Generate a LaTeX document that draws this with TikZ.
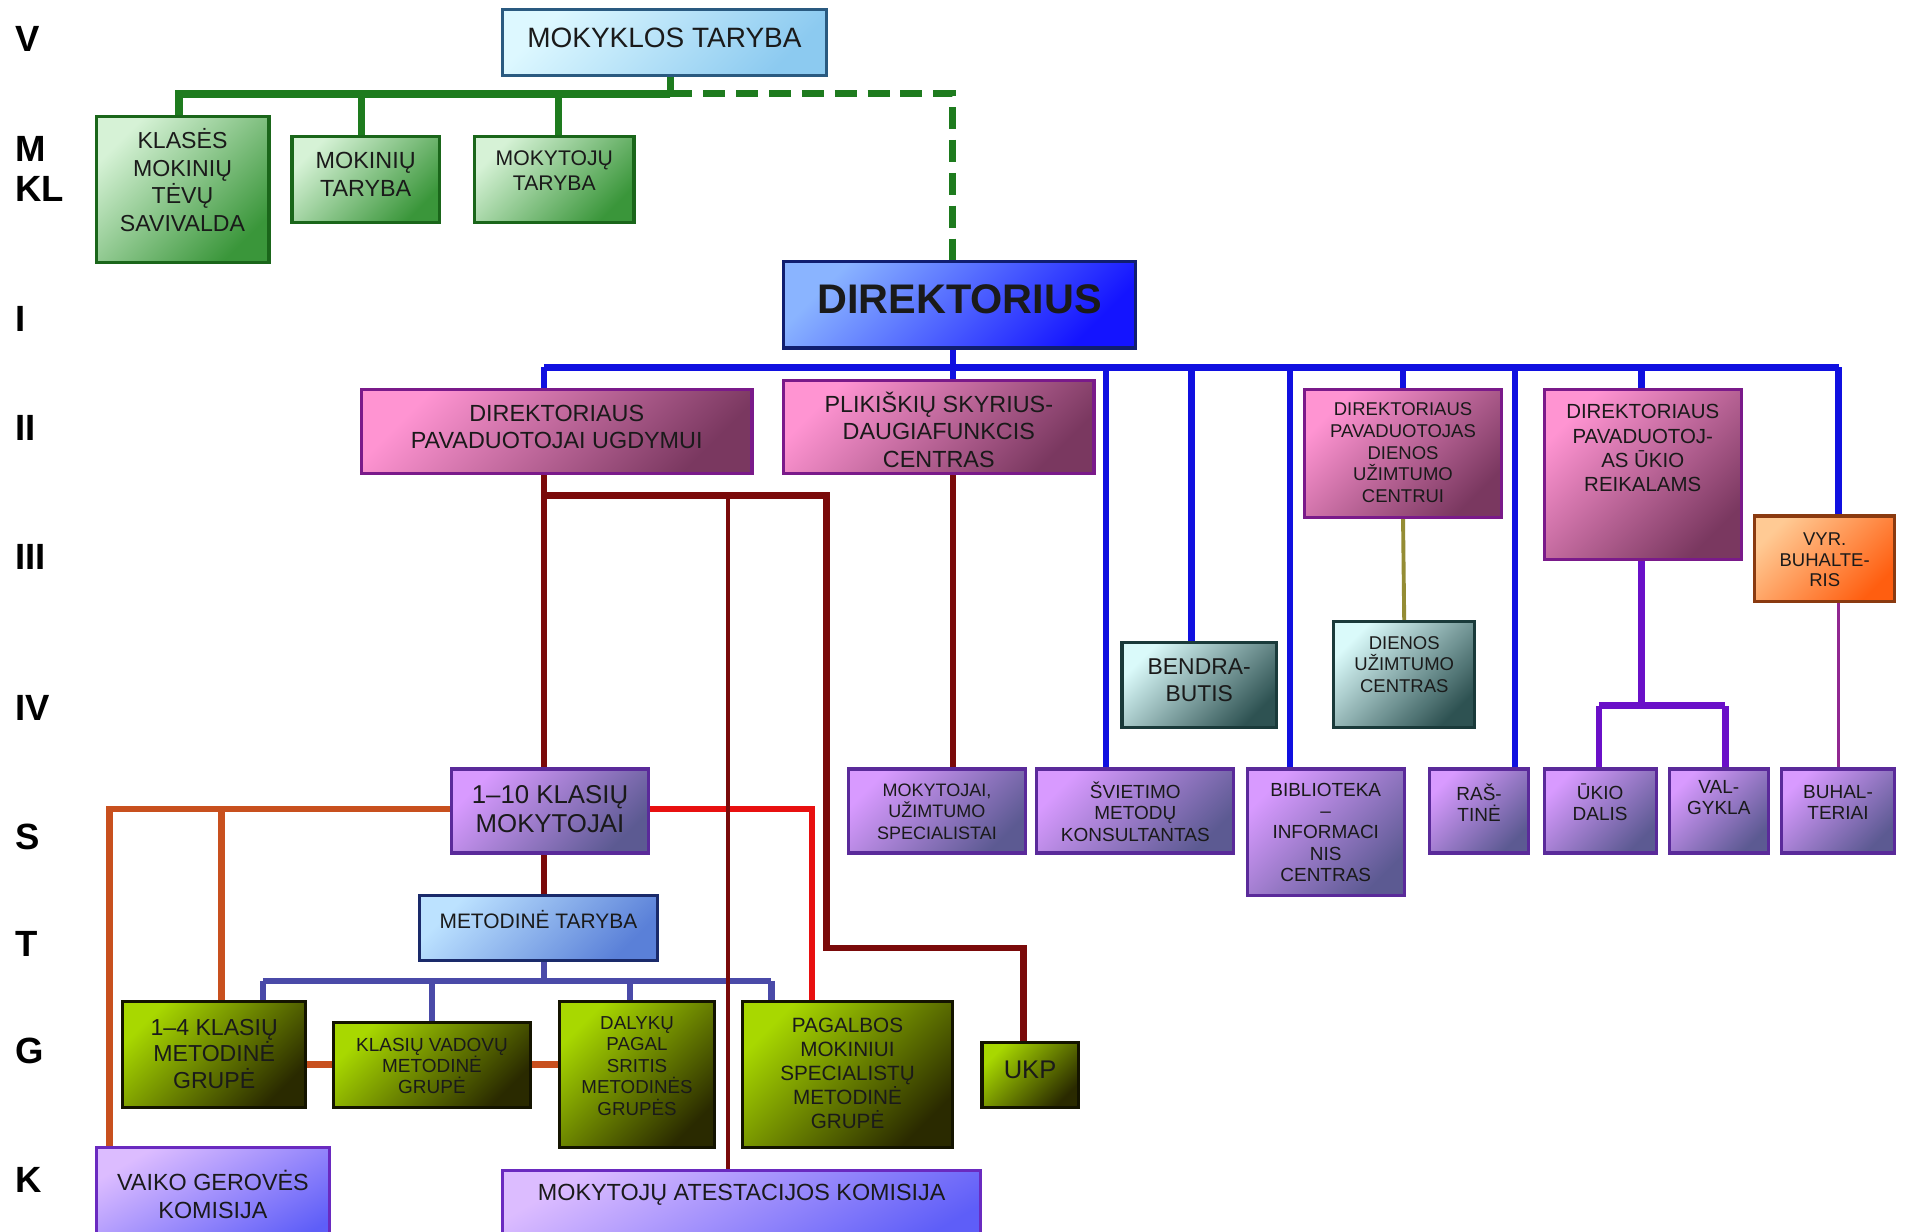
\documentclass[tikz,border=0pt]{standalone}
\usepackage{fontspec}
\setmainfont{Liberation Sans}
\pgfdeclarelayer{bg}
\pgfsetlayers{bg,main}
\definecolor{cyL}{HTML}{DDF8FF}\definecolor{cyD}{HTML}{8CCAF0}\definecolor{cyB}{HTML}{2A5A80}
\definecolor{grL}{HTML}{D6F2D6}\definecolor{grD}{HTML}{3A963A}\definecolor{grB}{HTML}{1A661A}
\definecolor{blL}{HTML}{8AB4FF}\definecolor{blD}{HTML}{1414FF}\definecolor{blB}{HTML}{101E70}
\definecolor{piL}{HTML}{FF94D2}\definecolor{piD}{HTML}{7A3860}\definecolor{piB}{HTML}{7A1A8A}
\definecolor{orL}{HTML}{FFCA94}\definecolor{orD}{HTML}{FF5E10}\definecolor{orB}{HTML}{8A3A10}
\definecolor{teL}{HTML}{DAFAFA}\definecolor{teD}{HTML}{2E5252}\definecolor{teB}{HTML}{1A3A3A}
\definecolor{viL}{HTML}{D89AFF}\definecolor{viD}{HTML}{5C5A92}\definecolor{viB}{HTML}{5A2A9A}
\definecolor{mtL}{HTML}{BCE2FF}\definecolor{mtD}{HTML}{5A80D8}\definecolor{mtB}{HTML}{1A2A6A}
\definecolor{liL}{HTML}{A8D800}\definecolor{liD}{HTML}{2A2A00}\definecolor{liB}{HTML}{141400}
\definecolor{laL}{HTML}{DCBCFF}\definecolor{laD}{HTML}{5E5EF8}\definecolor{laB}{HTML}{6A2AC0}
\definecolor{cGreen}{HTML}{1E7B1E}
\definecolor{cBlue}{HTML}{1010E0}
\definecolor{cMaroon}{HTML}{7A0A0A}
\definecolor{cOlive}{HTML}{948C34}
\definecolor{cViolet}{HTML}{6A10C8}
\definecolor{cPlum}{HTML}{902890}
\definecolor{cRust}{HTML}{C8501E}
\definecolor{cRed}{HTML}{E81010}
\definecolor{cNavy}{HTML}{4A4AA8}
\definecolor{txtc}{HTML}{1A1A1A}
\tikzset{
  box/.style={draw, line width=1.3pt, inner sep=0pt, outer sep=0pt},
  cyanbox/.style={box, draw=cyB, top color=cyL, bottom color=cyD, shading angle=45},
  greenbox/.style={box, draw=grB, top color=grL, bottom color=grD, shading angle=45},
  bluebox/.style={box, draw=blB, top color=blL, bottom color=blD, shading angle=45},
  pinkbox/.style={box, draw=piB, top color=piL, bottom color=piD, shading angle=45},
  orangebox/.style={box, draw=orB, top color=orL, bottom color=orD, shading angle=45},
  tealbox/.style={box, draw=teB, top color=teL, bottom color=teD, shading angle=45},
  violetbox/.style={box, draw=viB, top color=viL, bottom color=viD, shading angle=45},
  mtbox/.style={box, draw=mtB, top color=mtL, bottom color=mtD, shading angle=45},
  limebox/.style={box, draw=liB, top color=liL, bottom color=liD, shading angle=45},
  lavbox/.style={box, draw=laB, top color=laL, bottom color=laD, shading angle=30},
  txt/.style={align=center, inner sep=0pt, text=txtc},
  f/.style 2 args={font=\fontsize{#1}{#2}\selectfont},
  fb/.style 2 args={font=\fontsize{#1}{#2}\selectfont\bfseries},
  rowlab/.style={anchor=west, inner sep=0pt, font=\fontsize{15}{18}\selectfont\bfseries},
  conn/.style={line width=2.7pt},
  gline/.style={line width=3.2pt, draw=cGreen},
  gdash/.style={line width=3pt, draw=cGreen, dash pattern=on 9pt off 4.5pt},
  bline/.style={conn, draw=cBlue},
  mline/.style={conn, draw=cMaroon},
  mthin/.style={line width=1.7pt, draw=cMaroon},
  oline/.style={line width=1.6pt, draw=cOlive},
  vline/.style={conn, draw=cViolet},
  pline/.style={line width=1.4pt, draw=cPlum},
  rline/.style={line width=2.7pt, draw=cRust},
  redline/.style={line width=2.5pt, draw=cRed},
  nline/.style={line width=2.5pt, draw=cNavy},
}
\newcommand\bx[9]{%
  \node[#6, minimum width={(#4-#2)*0.5pt}, minimum height={(#5-#3)*0.5pt}] (#1) at ({(#2+#4)/2},{(#3+#5)/2}) {};
  \node[txt, #8] (#1t) at ({(#2+#4)/2},#7) {#9};
}
\begin{document}
\begin{tikzpicture}[x=0.5pt,y=-0.5pt]
\useasboundingbox (0,0) rectangle (1568,1012);
\clip (0,0) rectangle (1568,1012);
\begin{pgfonlayer}{bg}
\fill[white] (0,0) rectangle (1568,1012);
\end{pgfonlayer}
% row labels
\node[rowlab] (lV) at (12,32) {V};
\node[rowlab] (lM) at (12,122) {M};
\node[rowlab] (lKL) at (12,155) {KL};
\node[rowlab] (lI) at (12,262) {I};
\node[rowlab] (lII) at (12,352) {II};
\node[rowlab] (lIII) at (12,458) {III};
\node[rowlab] (lIV) at (12,582) {IV};
\node[rowlab] (lS) at (12,688) {S};
\node[rowlab] (lT) at (12,776) {T};
\node[rowlab] (lG) at (12,864) {G};
\node[rowlab] (lK) at (12,970) {K};
% boxes
\bx{mokt}{413}{8}{679}{62}{cyanbox}{31}{f={11.5}{13.5}}{MOKYKLOS TARYBA}
\bx{klases}{79}{96}{221}{216}{greenbox}{148}{f={9.5}{11.3}}{KLASĖS\\MOKINIŲ\\TĖVŲ\\SAVIVALDA}
\bx{mokin}{240}{112}{361}{183}{greenbox}{143}{f={9.6}{11.5}}{MOKINIŲ\\TARYBA}
\bx{mokyt}{390}{112}{521}{183}{greenbox}{140}{f={8.7}{10.3}}{MOKYTOJŲ\\TARYBA}
\bx{dir}{644}{215}{933}{286}{bluebox}{246}{fb={17}{20}}{DIREKTORIUS}
\bx{pavu}{297}{320}{618}{389}{pinkbox}{351}{f={9.6}{11.2}}{DIREKTORIAUS\\PAVADUOTOJAI UGDYMUI}
\bx{plik}{644}{313}{899}{389}{pinkbox}{353}{f={9.6}{11.3}}{PLIKIŠKIŲ SKYRIUS-\\DAUGIAFUNKCIS\\CENTRAS}
\bx{pavd}{1072}{320}{1234}{425}{pinkbox}{372}{f={7.6}{8.9}}{DIREKTORIAUS\\PAVADUOTOJAS\\DIENOS\\UŽIMTUMO\\CENTRUI}
\bx{pavk}{1269}{320}{1431}{460}{pinkbox}{368.5}{f={8.4}{10}}{DIREKTORIAUS\\PAVADUOTOJ-\\AS ŪKIO\\REIKALAMS}
\bx{vyr}{1442}{424}{1557}{494}{orangebox}{460}{f={7.6}{8.4}}{VYR.\\BUHALTE-\\RIS}
\bx{bend}{922}{528}{1049}{598}{tealbox}{559}{f={9.4}{11}}{BENDRA-\\BUTIS}
\bx{dien}{1096}{511}{1212}{598}{tealbox}{546}{f={7.6}{8.9}}{DIENOS\\UŽIMTUMO\\CENTRAS}
\bx{k110}{371}{632}{533}{701}{violetbox}{665}{f={10.6}{12}}{1–10 KLASIŲ\\MOKYTOJAI}
\bx{mokuz}{697}{632}{843}{701}{violetbox}{667}{f={7.4}{8.9}}{MOKYTOJAI,\\UŽIMTUMO\\SPECIALISTAI}
\bx{svie}{852}{632}{1014}{701}{violetbox}{667}{f={7.8}{8.9}}{ŠVIETIMO\\METODŲ\\KONSULTANTAS}
\bx{bibl}{1025}{632}{1154}{736}{violetbox}{684}{f={7.8}{8.8}}{BIBLIOTEKA\\–\\INFORMACI\\NIS\\CENTRAS}
\bx{rast}{1175}{632}{1256}{701}{violetbox}{659.5}{f={7.8}{8.6}}{RAŠ-\\TINĖ}
\bx{ukio}{1269}{632}{1361}{701}{violetbox}{659.5}{f={7.8}{8.6}}{ŪKIO\\DALIS}
\bx{valg}{1372}{632}{1453}{701}{violetbox}{655.5}{f={7.8}{8.6}}{VAL-\\GYKLA}
\bx{buh}{1464}{632}{1557}{701}{violetbox}{659.5}{f={7.8}{8.6}}{BUHAL-\\TERIAI}
\bx{mtar}{345}{736}{540}{789}{mtbox}{756}{f={8.6}{10}}{METODINĖ TARYBA}
\bx{k14}{101}{823}{251}{910}{limebox}{866}{f={9.5}{10.8}}{1–4 KLASIŲ\\METODINĖ\\GRUPĖ}
\bx{kvad}{274}{840}{436}{910}{limebox}{876}{f={7.8}{8.8}}{KLASIŲ VADOVŲ\\METODINĖ\\GRUPĖ}
\bx{daly}{460}{823}{587}{943}{limebox}{876}{f={7.7}{8.8}}{DALYKŲ\\PAGAL\\SRITIS\\METODINĖS\\GRUPĖS}
\bx{pag}{610}{823}{783}{943}{limebox}{882}{f={8.5}{9.8}}{PAGALBOS\\MOKINIUI\\SPECIALISTŲ\\METODINĖ\\GRUPĖ}
\bx{ukp}{807}{857}{886}{910}{limebox}{879}{f={10.5}{12}}{UKP}
\bx{vaiko}{79}{943}{271}{1030}{lavbox}{981.5}{f={9.6}{11.5}}{VAIKO GEROVĖS\\KOMISIJA}
\bx{atest}{413}{962}{806}{1030}{lavbox}{982}{f={9.6}{11}}{MOKYTOJŲ ATESTACIJOS KOMISIJA}
% junction coordinates
\coordinate (gJ) at (551,77); \coordinate (gL) at (147,77); \coordinate (gD) at (783,77);
\coordinate (g2) at (297,77); \coordinate (g3) at (459,77);
\coordinate (bL) at (447,302); \coordinate (bR) at (1511,302); \coordinate (bD) at (783,302);
\coordinate (b3) at (909,302); \coordinate (b4) at (979,302); \coordinate (b5) at (1060,302);
\coordinate (b6) at (1153,302); \coordinate (b7) at (1245,302); \coordinate (b8) at (1349,302);
\coordinate (m1) at (447,407); \coordinate (m2) at (598,407); \coordinate (m3) at (679,407);
\coordinate (m4) at (679,779); \coordinate (m5) at (841,779); \coordinate (m6) at (783,389);
\coordinate (v1) at (1349,580); \coordinate (v2) at (1314,580); \coordinate (v3) at (1418,580);
\coordinate (pb) at (1511,494);
\coordinate (r1) at (90,665); \coordinate (r2) at (182,665); \coordinate (rd) at (667,665);
\coordinate (gy) at (0,875);
\coordinate (n0) at (447,806); \coordinate (nL) at (216,806); \coordinate (nR) at (634,806);
\coordinate (n2) at (355,806); \coordinate (n3) at (518,806);
\begin{pgfonlayer}{bg}
% green
\draw[gline] (mokt.south -| gJ) -- (gJ);
\draw[gline] (gJ) -- (gL) -- (klases.north -| gL);
\draw[gline] (g2) -- (mokin.north -| g2);
\draw[gline] (g3) -- (mokyt.north -| g3);
\draw[gdash] (gJ) -- (gD) -- (dir.north -| gD);
% blue
\draw[bline] (dir.south -| bD) -- (bD);
\draw[bline] (bL) -- (bR);
\draw[bline] (bL) -- (pavu.north -| bL);
\draw[bline] (bD) -- (plik.north -| bD);
\draw[bline] (b3) -- (svie.north -| b3);
\draw[bline] (b4) -- (bend.north -| b4);
\draw[bline] (b5) -- (bibl.north -| b5);
\draw[bline] (b6) -- (pavd.north -| b6);
\draw[bline] (b7) -- (rast.north -| b7);
\draw[bline] (b8) -- (pavk.north -| b8);
\draw[bline] (bR) -- (vyr.north -| bR);
% olive, violet, plum
\draw[oline] (pavd.south) -- (dien.north);
\draw[vline] (pavk.south -| v1) -- (v1);
\draw[vline] (v2) -- (v3);
\draw[vline] (v2) -- (ukio.north -| v2);
\draw[vline] (v3) -- (valg.north -| v3);
\draw[pline] (vyr.south -| pb) -- (buh.north -| pb);
% navy
\draw[nline] (mtar.south -| n0) -- (n0);
\draw[nline] (nL) -- (nR);
\draw[nline] (nL) -- (k14.north -| nL);
\draw[nline] (n2) -- (kvad.north -| n2);
\draw[nline] (n3) -- (daly.north -| n3);
\draw[nline] (nR) -- (pag.north -| nR);
% rust and red
\draw[rline] (k110.west |- r1) -- (r1) -- (vaiko.north -| r1);
\draw[rline] (r2) -- (k14.north -| r2);
\draw[redline] (k110.east |- rd) -- (rd) -- (pag.north -| rd);
\draw[rline] (k14.east |- gy) -- (kvad.west |- gy);
\draw[rline] (kvad.east |- gy) -- (daly.west |- gy);
% maroon
\draw[mline] (pavu.south -| m1) -- (k110.north -| m1);
\draw[mline] (k110.south -| m1) -- (mtar.north -| m1);
\draw[mline] (m1) -- (m3) -- (m4) -- (m5) -- (ukp.north -| m5);
\draw[mthin] (m2) -- (atest.north -| m2);
\draw[mline] (m6) -- (mokuz.north -| m6);
\end{pgfonlayer}
\end{tikzpicture}
\end{document}
